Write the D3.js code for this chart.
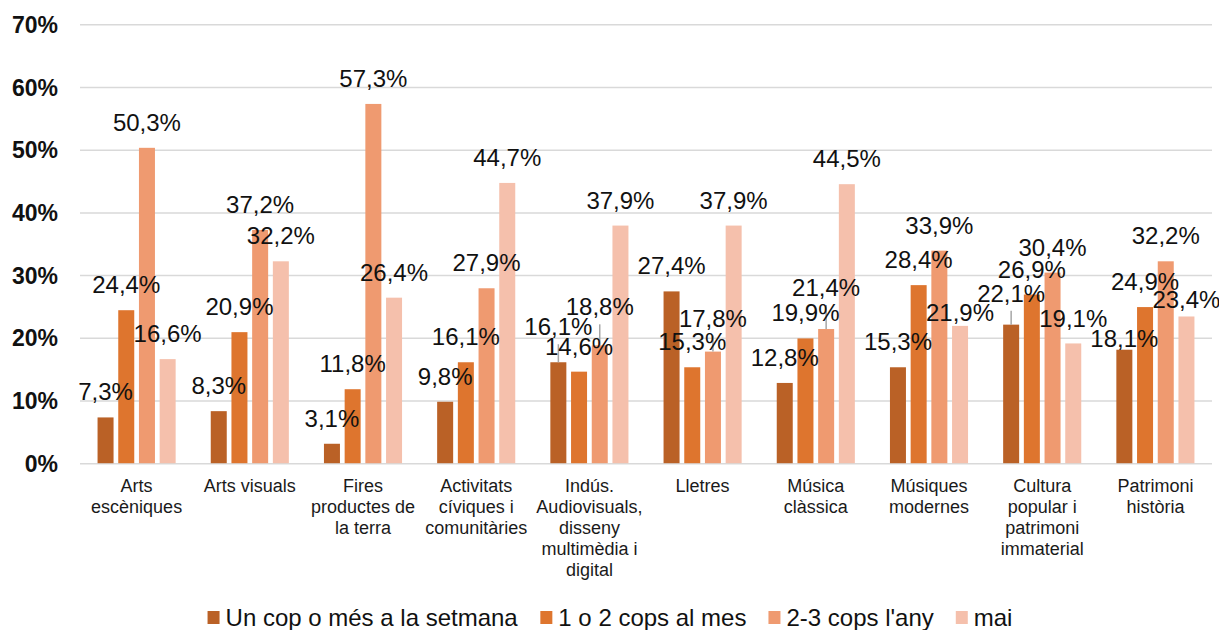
<html>
<head>
<meta charset="utf-8">
<style>
  body { margin: 0; background: #fff; }
  text { font-family: 'Liberation Sans', Arial, sans-serif; }
</style>
</head>
<body>
  <div id="chart"></div>
  <script src="https://cdn.jsdelivr.net/npm/d3@7/dist/d3.min.js"></script>
  <script>
    // categories and their wrapped tick labels
    var categories = ['Arts escèniques', 'Arts visuals', 'Fires productes de la terra', 'Activitats cíviques i comunitàries',
      'Indús. Audiovisuals, disseny multimèdia i digital', 'Lletres', 'Música clàssica', 'Músiques modernes',
      'Cultura popular i patrimoni immaterial', 'Patrimoni història'];
    var categoryLines = [['Arts', 'escèniques'], ['Arts visuals'], ['Fires', 'productes de', 'la terra'],
      ['Activitats', 'cíviques i', 'comunitàries'], ['Indús.', 'Audiovisuals,', 'disseny', 'multimèdia i', 'digital'],
      ['Lletres'], ['Música', 'clàssica'], ['Músiques', 'modernes'], ['Cultura', 'popular i', 'patrimoni', 'immaterial'],
      ['Patrimoni', 'història']];

    var seriesNames = ['Un cop o més a la setmana', '1 o 2 cops al mes', "2-3 cops l'any", 'mai'];
    var weekly  = [7.3, 8.3, 3.1, 9.8, 16.1, 27.4, 12.8, 15.3, 22.1, 18.1];
    var monthly = [24.4, 20.9, 11.8, 16.1, 14.6, 15.3, 19.9, 28.4, 26.9, 24.9];
    var yearly  = [50.3, 37.2, 57.3, 27.9, 18.8, 17.8, 21.4, 33.9, 30.4, 32.2];
    var never   = [16.6, 32.2, 26.4, 44.7, 37.9, 37.9, 44.5, 21.9, 19.1, 23.4];
    var yTicks  = [0, 10, 20, 30, 40, 50, 60, 70];

    var colors = ['#BA6126', '#DE752E', '#EF9A70', '#F5C0AC'];
    // vertical nudges of data labels (px), like the manual placement in the original
    var labelShift = [
      [0, 0, 0, 0, -10, 0, 0, 0, -6, 14],
      [0, 0, 0, 0, 0, 0, 0, 0, 0, 0],
      [0, 0, 0, 0, -13, -8, -16, 0, 0, 0],
      [0, 0, 0, 0, 0, 0, 0, 12, 1, 9]
    ];

    var seriesValues = [weekly, monthly, yearly, never];
    var svgW = 1219, svgH = 630;
    var plotLeft = 80, plotRight = 1212, plotTop = 24.3, plotBottom = 463.2;

    var svg = d3.select('#chart').append('svg')
      .attr('width', svgW)
      .attr('height', svgH);

    var y = d3.scaleLinear().domain([0, 70]).range([plotBottom, plotTop]);
    var x0 = d3.scaleBand().domain(categories).range([plotLeft, plotRight]).padding(0);
    var groupW = 78.1;
    var x1 = d3.scaleBand().domain(d3.range(seriesNames.length))
      .range([(x0.bandwidth() - groupW) / 2, (x0.bandwidth() + groupW) / 2])
      .paddingInner(0.227).paddingOuter(0);

    // y axis + gridlines
    var yAxis = svg.append('g')
      .attr('transform', 'translate(' + plotLeft + ',0)')
      .call(d3.axisLeft(y).tickValues(yTicks).tickSize(-(plotRight - plotLeft)).tickFormat(function(d){ return d + '%'; }));
    yAxis.select('.domain').remove();
    yAxis.selectAll('line').attr('stroke', '#d9d9d9').attr('stroke-width', 1.5);
    yAxis.selectAll('text')
      .attr('x', -22)
      .attr('dy', '0.35em')
      .style('font-size', '23px')
      .style('font-weight', 'bold')
      .style('font-family', "'Liberation Sans', Arial, sans-serif")
      .attr('fill', '#111');

    // x axis labels
    var xAxis = svg.append('g')
      .attr('transform', 'translate(0,' + plotBottom + ')')
      .call(d3.axisBottom(x0).tickSize(0));
    xAxis.select('.domain').remove();
    xAxis.selectAll('.tick text').each(function(d, i){
      var t = d3.select(this).text(null).attr('y', 0).attr('dy', null)
        .style('font-size', '18px')
        .style('font-family', "'Liberation Sans', Arial, sans-serif")
        .attr('fill', '#1a1a1a');
      categoryLines[i].forEach(function(line, j){
        t.append('tspan').attr('x', 0).attr('y', 29 + j * 21).text(line);
      });
    });

    // bars
    var groups = svg.selectAll('g.cat')
      .data(categories)
      .enter()
      .append('g')
      .attr('class', 'cat')
      .attr('transform', function(d){ return 'translate(' + x0(d) + ',0)'; });

    groups.selectAll('rect')
      .data(function(d, i){ return seriesValues.map(function(s, k){ return {k: k, i: i, v: s[i]}; }); })
      .enter()
      .append('rect')
      .attr('x', function(d){ return x1(d.k); })
      .attr('width', x1.bandwidth())
      .attr('y', function(d){ return y(d.v); })
      .attr('height', function(d){ return plotBottom - y(d.v); })
      .attr('fill', function(d){ return colors[d.k]; });

    // leader lines for nudged labels
    groups.selectAll('line.leader')
      .data(function(d, i){
        return seriesValues.map(function(s, k){ return {k: k, i: i, v: s[i]}; })
          .filter(function(d){ return labelShift[d.k][d.i] < -5; });
      })
      .enter()
      .append('line')
      .attr('class', 'leader')
      .attr('x1', function(d){ return x1(d.k) + x1.bandwidth() / 2; })
      .attr('x2', function(d){ return x1(d.k) + x1.bandwidth() / 2; })
      .attr('y1', function(d){ return y(d.v); })
      .attr('y2', function(d){ return y(d.v) - 17 + labelShift[d.k][d.i] + 9; })
      .attr('stroke', '#a6a6a6')
      .attr('stroke-width', 1.5);

    // data labels
    groups.selectAll('text.val')
      .data(function(d, i){ return seriesValues.map(function(s, k){ return {k: k, i: i, v: s[i]}; }); })
      .enter()
      .append('text')
      .attr('class', 'val')
      .attr('x', function(d){ return x1(d.k) + x1.bandwidth() / 2; })
      .attr('y', function(d){ return y(d.v) - 17 + labelShift[d.k][d.i]; })
      .attr('text-anchor', 'middle')
      .style('font-size', '24px')
      .attr('fill', '#111')
      .text(function(d){ return d3.format('.1f')(d.v).replace('.', ',') + '%'; });

    // legend
    var legend = svg.append('g');
    var items = legend.selectAll('g')
      .data(seriesNames)
      .enter()
      .append('g');
    items.append('rect')
      .attr('width', 12)
      .attr('height', 13)
      .attr('y', 611)
      .attr('fill', function(d, i){ return colors[i]; });
    items.append('text')
      .attr('x', 18)
      .attr('y', 626)
      .style('font-size', '24px')
      .attr('fill', '#111')
      .text(function(d){ return d; });
    var xpos = 0, widths = [];
    items.each(function(){ widths.push(this.getBBox().width); });
    var total = d3.sum(widths) + 22 * (widths.length - 1);
    xpos = 610 - total / 2;
    items.attr('transform', function(d, i){
      var tx = xpos;
      xpos += widths[i] + 22;
      return 'translate(' + tx + ',0)';
    });
  </script>
</body>
</html>
